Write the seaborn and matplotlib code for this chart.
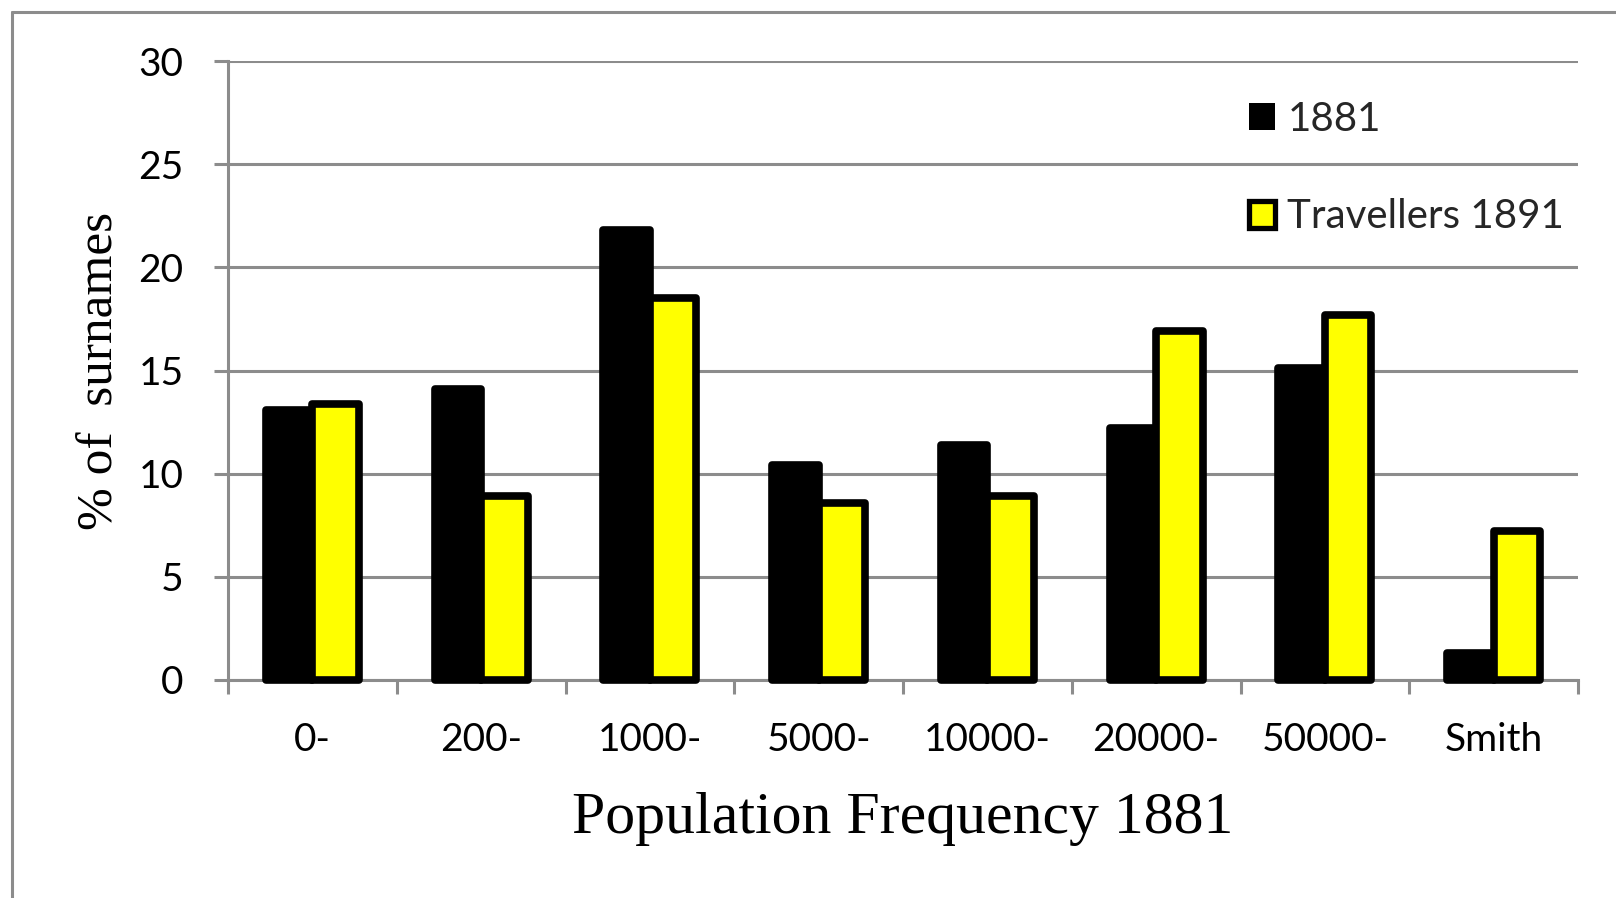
import matplotlib
matplotlib.use('Agg')
import matplotlib.pyplot as plt
import seaborn as sns
import pandas as pd
from matplotlib.patches import Patch
from matplotlib.lines import Line2D

categories = ['0-', '200-', '1000-', '5000-', '10000-', '20000-', '50000-', 'Smith']
values_1881 = [13.1, 14.1, 21.8, 10.4, 11.4, 12.2, 15.1, 1.3]
values_trav = [13.4, 8.9, 18.5, 8.6, 8.9, 16.9, 17.7, 7.2]
series_names = ['1881', 'Travellers 1891']
y_ticks = [0, 5, 10, 15, 20, 25, 30]

df = pd.DataFrame({
    'cat': categories * 2,
    'val': values_1881 + values_trav,
    'series': [series_names[0]] * len(categories) + [series_names[1]] * len(categories),
})

sns.set_theme(style='white')
plt.rcParams['font.family'] = ['Lato', 'DejaVu Sans']

GRAY = '#8c8c8c'
W, H = 1616, 898
fig = plt.figure(figsize=(W / 100, H / 100), dpi=100)
fig.patch.set_facecolor('white')
ax = fig.add_axes([228 / W, 1 - 680 / H, 1350 / W, 619 / H])

sns.barplot(data=df, x='cat', y='val', hue='series', order=categories,
            hue_order=series_names, palette=['#000000', '#FFFF00'],
            saturation=1, width=0.55, gap=0, edgecolor='black', linewidth=5.5,
            legend=False, ax=ax, errorbar=None)

for p in ax.patches:
    p.set_joinstyle('round')
    p.set_clip_on(False)
    p.set_zorder(3)

ax.set_ylim(0, 30)
ax.set_xlim(-0.5, len(categories) - 0.5)
ax.set_yticks(y_ticks)
ax.yaxis.grid(True, color=GRAY, linewidth=2.2)
ax.xaxis.grid(False)
ax.set_axisbelow(True)
for s in ['top', 'right']:
    ax.spines[s].set_visible(False)
for s in ['left', 'bottom']:
    ax.spines[s].set_color(GRAY)
    ax.spines[s].set_linewidth(2.2)

ax.tick_params(axis='y', which='major', left=True, length=10, width=2.2,
               color=GRAY, pad=22, labelsize=28, labelcolor='black')
ax.set_xticks(range(len(categories)))
ax.set_xticklabels(categories)
ax.set_xticks([i - 0.5 for i in range(len(categories) + 1)], minor=True)
ax.tick_params(axis='x', which='major', bottom=True, length=0, pad=30,
               labelsize=28, labelcolor='black')
ax.tick_params(axis='x', which='minor', bottom=True, length=10, width=2.2,
               color=GRAY)

ax.set_xlabel('Population Frequency 1881', fontsize=43,
              family=['Liberation Serif', 'DejaVu Serif'], color='black')
ax.xaxis.label.set_va('baseline')
ax.xaxis.set_label_coords(0.5, (680 - 833) / 619)
ax.set_ylabel('% of  surnames', fontsize=37,
              family=['Liberation Serif', 'DejaVu Serif'], color='black')
ax.yaxis.label.set_va('center')
ax.yaxis.set_label_coords((100 - 228) / 1350, 0.5)

handles = [Patch(facecolor='black', edgecolor='black', linewidth=0),
           Patch(facecolor='#FFFF00', edgecolor='black', linewidth=3.8,
                 joinstyle='round')]
fig.legend(handles, series_names, loc='center left',
           bbox_to_anchor=(1249 / W, 1 - 168 / H), frameon=False, fontsize=29,
           handlelength=0.65, handleheight=0.65, handletextpad=0.3,
           labelspacing=1.5, borderpad=0, borderaxespad=0)

fig.add_artist(Line2D([11.5 / W, 1], [1 - 11.5 / H] * 2,
                      transform=fig.transFigure, color=GRAY, lw=2.2))
fig.add_artist(Line2D([11.5 / W] * 2, [0, 1 - 11.5 / H],
                      transform=fig.transFigure, color=GRAY, lw=2.2))

fig.savefig('out.png', dpi=100, facecolor='white')
